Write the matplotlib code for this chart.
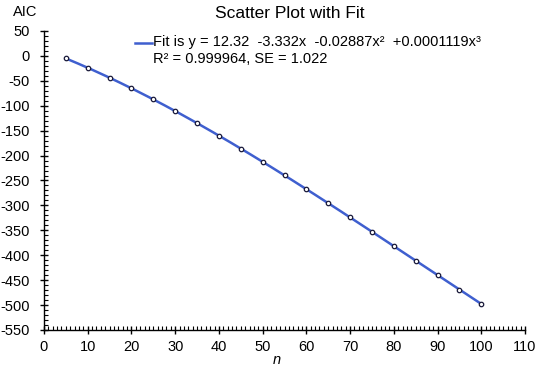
import numpy as np
import matplotlib
matplotlib.use("Agg")
import matplotlib.pyplot as plt
from matplotlib.ticker import MultipleLocator
from matplotlib.lines import Line2D

plt.rcParams['font.family'] = ['Liberation Sans', 'DejaVu Sans']
plt.rcParams['axes.unicode_minus'] = False

n_vals = [5, 10, 15, 20, 25, 30, 35, 40, 45, 50, 55, 60, 65, 70, 75, 80, 85, 90, 95, 100]
aic_vals = [-5.1, -23.8, -43.8, -65.0, -87.3, -110.6, -134.9, -160.0, -185.9, -212.5,
            -239.7, -267.4, -295.5, -324.0, -352.8, -381.7, -410.8, -439.8, -468.8, -497.7]
fit_coefs = [0.0001119, -0.02887, -3.332, 12.32]  # cubic, highest power first

W, H = 540, 368
fig = plt.figure(figsize=(5.4, 3.68), dpi=100)
ax = fig.add_axes([44 / W, 1 - 330 / H, (525 - 44) / W, (330 - 31) / H])

xf = np.linspace(min(n_vals), max(n_vals), 300)
yf = np.polyval(fit_coefs, xf)
line_color = '#3f5fcf'
ax.plot(xf, yf, color=line_color, lw=1.8, zorder=2)
ax.plot(n_vals, aic_vals, linestyle='none', marker='o', ms=3.2, mfc='white',
        mec='#1a1a3a', mew=0.9, zorder=3)

ax.set_xlim(0, 110)
ax.set_ylim(-550, 50)
ax.xaxis.set_major_locator(MultipleLocator(10))
ax.xaxis.set_minor_locator(MultipleLocator(1))
ax.yaxis.set_major_locator(MultipleLocator(50))
ax.yaxis.set_minor_locator(MultipleLocator(10))
for s in ['top', 'right']:
    ax.spines[s].set_visible(False)
for s in ['left', 'bottom']:
    ax.spines[s].set_linewidth(1.0)
ax.tick_params(which='major', direction='inout', length=6, width=1.0, labelsize=10.5)
ax.tick_params(axis='y', which='major', pad=7)
ax.tick_params(axis='x', which='major', pad=4)
ax.tick_params(which='minor', direction='in', length=3, width=0.8)

fig.text(290 / W, 1 - 13 / H, 'Scatter Plot with Fit', ha='center', va='center', fontsize=12.5)
fig.text(13 / W, 1 - 12 / H, 'AIC', ha='left', va='center', fontsize=10.5)
fig.text(277 / W, 1 - 360 / H, 'n', ha='center', va='center', fontstyle='italic', fontsize=10.5)

fig.lines.append(Line2D([135 / W, 152 / W], [1 - 43 / H, 1 - 43 / H], color=line_color, lw=1.8,
                        transform=fig.transFigure))
fig.text(153 / W, 1 - 42 / H, 'Fit is y = 12.32  -3.332x  -0.02887x²  +0.0001119x³',
         ha='left', va='center', fontsize=10.5)
fig.text(153 / W, 1 - 59 / H, 'R² = 0.999964, SE = 1.022', ha='left', va='center', fontsize=10.5)

fig.savefig('out.png', dpi=100)
